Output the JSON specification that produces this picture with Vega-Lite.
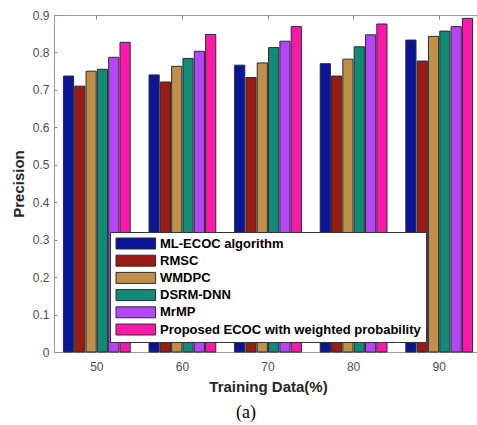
{
  "$schema": "https://vega.github.io/schema/vega-lite/v6.json",
  "width": 428,
  "height": 337,
  "autosize": {"type": "none"},
  "padding": {"left": 54, "top": 15, "right": 0, "bottom": 73},
  "background": "white",
  "title": {"text": "(a)", "orient": "bottom", "font": "Liberation Serif", "fontSize": 18, "fontWeight": "normal", "color": "#000000", "dx": -22, "offset": 10},
  "data": {"values": [
    {"train": "50", "method": "ML-ECOC algorithm", "value": 0.737},
    {"train": "50", "method": "RMSC", "value": 0.710},
    {"train": "50", "method": "WMDPC", "value": 0.750},
    {"train": "50", "method": "DSRM-DNN", "value": 0.755},
    {"train": "50", "method": "MrMP", "value": 0.787},
    {"train": "50", "method": "Proposed ECOC with weighted probability", "value": 0.827},
    {"train": "60", "method": "ML-ECOC algorithm", "value": 0.740},
    {"train": "60", "method": "RMSC", "value": 0.721},
    {"train": "60", "method": "WMDPC", "value": 0.763},
    {"train": "60", "method": "DSRM-DNN", "value": 0.784},
    {"train": "60", "method": "MrMP", "value": 0.803},
    {"train": "60", "method": "Proposed ECOC with weighted probability", "value": 0.848},
    {"train": "70", "method": "ML-ECOC algorithm", "value": 0.766},
    {"train": "70", "method": "RMSC", "value": 0.733},
    {"train": "70", "method": "WMDPC", "value": 0.772},
    {"train": "70", "method": "DSRM-DNN", "value": 0.813},
    {"train": "70", "method": "MrMP", "value": 0.830},
    {"train": "70", "method": "Proposed ECOC with weighted probability", "value": 0.869},
    {"train": "80", "method": "ML-ECOC algorithm", "value": 0.770},
    {"train": "80", "method": "RMSC", "value": 0.737},
    {"train": "80", "method": "WMDPC", "value": 0.782},
    {"train": "80", "method": "DSRM-DNN", "value": 0.815},
    {"train": "80", "method": "MrMP", "value": 0.847},
    {"train": "80", "method": "Proposed ECOC with weighted probability", "value": 0.876},
    {"train": "90", "method": "ML-ECOC algorithm", "value": 0.833},
    {"train": "90", "method": "RMSC", "value": 0.777},
    {"train": "90", "method": "WMDPC", "value": 0.843},
    {"train": "90", "method": "DSRM-DNN", "value": 0.857},
    {"train": "90", "method": "MrMP", "value": 0.869},
    {"train": "90", "method": "Proposed ECOC with weighted probability", "value": 0.891}
  ]},
  "layer": [
    {
      "mark": {"type": "bar", "stroke": "#2a2a3a", "strokeWidth": 1},
      "encoding": {
        "x": {
          "field": "train", "type": "nominal",
          "scale": {"type": "band", "paddingInner": 0.22, "paddingOuter": 0.11},
          "axis": {"orient": "bottom", "title": "Training Data(%)", "labelAngle": 0, "ticks": false, "domain": false, "labelPadding": 9, "titlePadding": 7}
        },
        "xOffset": {
          "field": "method", "type": "nominal",
          "scale": {"domain": ["ML-ECOC algorithm", "RMSC", "WMDPC", "DSRM-DNN", "MrMP", "Proposed ECOC with weighted probability"], "paddingInner": 0.1}
        },
        "y": {
          "field": "value", "type": "quantitative",
          "scale": {"domain": [0, 0.9], "nice": false},
          "axis": {"title": "Precision", "values": [0, 0.1, 0.2, 0.3, 0.4, 0.5, 0.6, 0.7, 0.8, 0.9], "format": ".1~f", "grid": false, "domain": false, "tickSize": -3, "labelPadding": 8, "titlePadding": 6}
        },
        "color": {
          "field": "method", "type": "nominal",
          "scale": {
            "domain": ["ML-ECOC algorithm", "RMSC", "WMDPC", "DSRM-DNN", "MrMP", "Proposed ECOC with weighted probability"],
            "range": ["#0b1598", "#9b1b12", "#c09049", "#108c74", "#b446f8", "#ff17aa"]
          },
          "legend": {
            "title": null, "orient": "none", "legendX": 56, "legendY": 217,
            "symbolType": "M-1,-1L6.2,-1L6.2,1L-1,1Z", "symbolSize": 121,
            "symbolStrokeColor": "#2a2a3a", "symbolStrokeWidth": 1, "symbolOpacity": 1,
            "labelFont": "Liberation Sans", "labelFontSize": 13, "labelFontWeight": "bold", "labelColor": "#000000",
            "labelOffset": 32, "labelLimit": 400, "rowPadding": 2.2, "padding": 5,
            "fillColor": "white", "strokeColor": "#333333", "cornerRadius": 0
          }
        }
      }
    },
    {
      "mark": {"type": "point", "opacity": 0},
      "encoding": {
        "x": {
          "field": "train", "type": "nominal",
          "scale": {"type": "band", "paddingInner": 0.22, "paddingOuter": 0.11},
          "axis": {"orient": "top", "title": null, "labels": false, "domain": false, "tickSize": -4}
        }
      }
    }
  ],
  "resolve": {"axis": {"x": "independent"}},
  "config": {
    "view": {"stroke": "#999999", "strokeWidth": 1},
    "axis": {
      "labelFont": "Liberation Sans", "labelFontSize": 12, "labelColor": "#4d4d4d",
      "titleFont": "Liberation Sans", "titleFontSize": 15, "titleFontWeight": "bold", "titleColor": "#262626",
      "tickColor": "#888888"
    }
  }
}
